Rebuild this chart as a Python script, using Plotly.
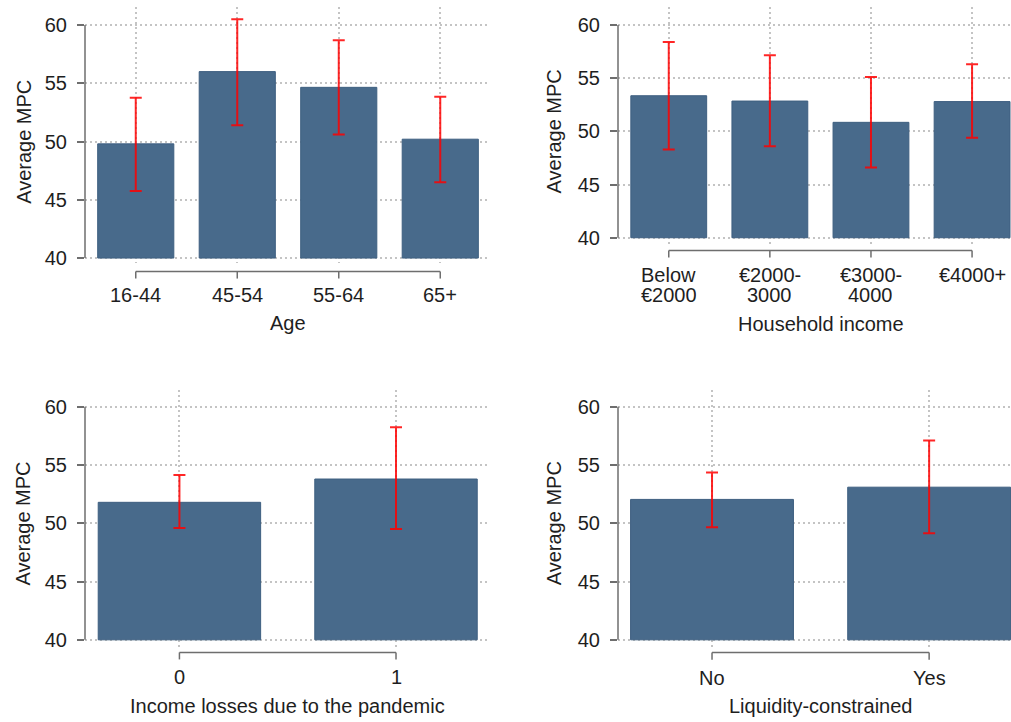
import plotly.graph_objects as go

# ---------------- data ----------------
age_labels = ["16-44", "45-54", "55-64", "65+"]
age_mean = [49.8, 56.0, 54.65, 50.2]
age_lo = [45.75, 51.4, 50.6, 46.5]
age_hi = [53.75, 60.5, 58.7, 53.85]

income_labels = [["Below", "€2000"], ["€2000-", "3000"], ["€3000-", "4000"], ["€4000+"]]
income_mean = [53.35, 52.85, 50.85, 52.8]
income_lo = [48.3, 48.6, 46.6, 49.4]
income_hi = [58.4, 57.15, 55.1, 56.3]

loss_labels = ["0", "1"]
loss_mean = [51.8, 53.8]
loss_lo = [49.6, 49.5]
loss_hi = [54.15, 58.25]

liq_labels = ["No", "Yes"]
liq_mean = [52.05, 53.1]
liq_lo = [49.65, 49.15]
liq_hi = [54.35, 57.1]

x_titles = ["Age", "Household income", "Income losses due to the pandemic", "Liquidity-constrained"]
y_title = "Average MPC"
y_ticks = [40, 45, 50, 55, 60]

# ---------------- style / layout ----------------
W, H = 1011, 722
VFIX = 0.9915  # vertical calibration of the pixel reading
FONT = "Liberation Sans, Arial, sans-serif"
FS = 20
TXT = "#1e1e1e"
BAR = "#486a8b"
BAR_EDGE = "#3e5f80"
ERR = "rgba(255,0,0,0.85)"
AX = "#6e6e6e"
GRID = "#c4c4c4"

def px_x(p):
    return p / W

def px_y(p):
    return 1 - (p / VFIX) / H

# pixel geometry of each panel
panels_geo = [
    dict(left=85, right=490, top=7, bottom=263, y60=25, y40=258, xr=[-0.5, 3.49],
         br=271.5, tick_c=295, tick_dy=0, title_c=323, ytitle_x=23.3),
    dict(left=618, right=1011, top=7, bottom=245, y60=25, y40=237.7, xr=[-0.502, 3.385],
         br=250.5, tick_c=274.8, tick_dy=19.4, title_c=323.5, ytitle_x=554),
    dict(left=85, right=490, top=390, bottom=647, y60=406.7, y40=639.7, xr=[-0.436, 1.434],
         br=652.3, tick_c=677, tick_dy=0, title_c=705.8, ytitle_x=23.3),
    dict(left=618, right=1011, top=390, bottom=647, y60=406.7, y40=639.7, xr=[-0.433, 1.377],
         br=652.5, tick_c=677.5, tick_dy=0, title_c=705.5, ytitle_x=554),
]

datasets = [
    (age_labels, age_mean, age_lo, age_hi),
    (income_labels, income_mean, income_lo, income_hi),
    (loss_labels, loss_mean, loss_lo, loss_hi),
    (liq_labels, liq_mean, liq_lo, liq_hi),
]

fig = go.Figure()
layout = dict(width=W, height=H, margin=dict(l=0, r=0, t=0, b=0),
              paper_bgcolor="white", plot_bgcolor="white", showlegend=False,
              font=dict(family=FONT, size=FS, color=TXT))
shapes = []
annotations = []

for k, (geo, (labels, mean, lo, hi)) in enumerate(zip(panels_geo, datasets)):
    n = k + 1
    xa = "x" if n == 1 else f"x{n}"
    ya = "y" if n == 1 else f"y{n}"
    xkey = "xaxis" if n == 1 else f"xaxis{n}"
    ykey = "yaxis" if n == 1 else f"yaxis{n}"
    idx = list(range(len(mean)))

    scale = (geo["y40"] - geo["y60"]) / 20.0
    ytop = 60 + (geo["y60"] - geo["top"]) / scale
    ybot = 40 - (geo["bottom"] - geo["y40"]) / scale

    fig.add_trace(go.Bar(
        x=idx, y=[m - 40 for m in mean], base=40, width=0.75,
        marker=dict(color=BAR, line=dict(color=BAR_EDGE, width=1)),
        xaxis=xa, yaxis=ya, hoverinfo="skip"))
    fig.add_trace(go.Scatter(
        x=idx, y=mean, mode="markers", marker=dict(size=1, opacity=0),
        error_y=dict(type="data", symmetric=False,
                     array=[h - m for h, m in zip(hi, mean)],
                     arrayminus=[m - l for m, l in zip(mean, lo)],
                     color=ERR, thickness=2, width=6),
        xaxis=xa, yaxis=ya, hoverinfo="skip"))

    layout[xkey] = dict(domain=[px_x(geo["left"]), px_x(geo["right"])], anchor=ya,
                        range=geo["xr"], tickvals=idx, showticklabels=False, ticks="",
                        showline=False, zeroline=False, showgrid=True,
                        gridcolor=GRID, gridwidth=1.5, griddash="1.5px,3.5px")
    layout[ykey] = dict(domain=[px_y(geo["bottom"]), px_y(geo["top"])], anchor=xa,
                        range=[ybot, ytop], tickvals=y_ticks, ticks="outside", ticklen=7,
                        tickwidth=1.5, tickcolor=AX, ticklabelstandoff=6,
                        showline=False, zeroline=False, showgrid=True,
                        gridcolor=GRID, gridwidth=1.5, griddash="1.5px,3.5px",
                        tickfont=dict(size=FS, color=TXT))

    # y axis line spanning 40..60
    shapes.append(dict(type="line", xref=f"{xa} domain", yref=ya, x0=0, x1=0,
                       y0=y_ticks[0], y1=y_ticks[-1], line=dict(color=AX, width=1.5)))
    # x axis bracket
    yb = px_y(geo["br"])
    yb2 = px_y(geo["br"] + 7)
    shapes.append(dict(type="line", xref=xa, yref="paper", x0=idx[0], x1=idx[-1],
                       y0=yb, y1=yb, line=dict(color=AX, width=1.5)))
    for i in idx:
        shapes.append(dict(type="line", xref=xa, yref="paper", x0=i, x1=i,
                           y0=yb, y1=yb2, line=dict(color=AX, width=1.5)))
    # category labels
    for i, lab in zip(idx, labels):
        lines = lab if isinstance(lab, list) else [lab]
        for j, line in enumerate(lines):
            ann = dict(xref=xa, yref="paper", x=i,
                       y=px_y(geo["tick_c"] + j * geo["tick_dy"]),
                       text=line, showarrow=False, xanchor="center",
                       yanchor="middle", borderpad=0,
                       font=dict(size=FS, color=TXT))
            if len(lines) > 1:
                ann["height"] = 19
            annotations.append(ann)
    # x title
    annotations.append(dict(xref="paper", yref="paper",
                            x=px_x((geo["left"] + geo["right"]) / 2 + (6 if geo["right"] >= W else 0)),
                            y=px_y(geo["title_c"]), text=x_titles[k], showarrow=False,
                            xanchor="center", yanchor="middle", font=dict(size=FS, color=TXT)))
    # y title
    annotations.append(dict(xref="paper", yref="paper", x=px_x(geo["ytitle_x"]),
                            y=px_y((geo["y40"] + geo["y60"]) / 2), text=y_title,
                            textangle=-90, showarrow=False, xanchor="center",
                            yanchor="middle", font=dict(size=FS, color=TXT)))

layout["shapes"] = shapes
layout["annotations"] = annotations
fig.update_layout(**layout)
fig.write_html("out.html", config={"displayModeBar": False},
               post_script="document.body.style.margin='0';document.body.style.padding='0';"
                           "document.body.style.overflow='hidden';")
